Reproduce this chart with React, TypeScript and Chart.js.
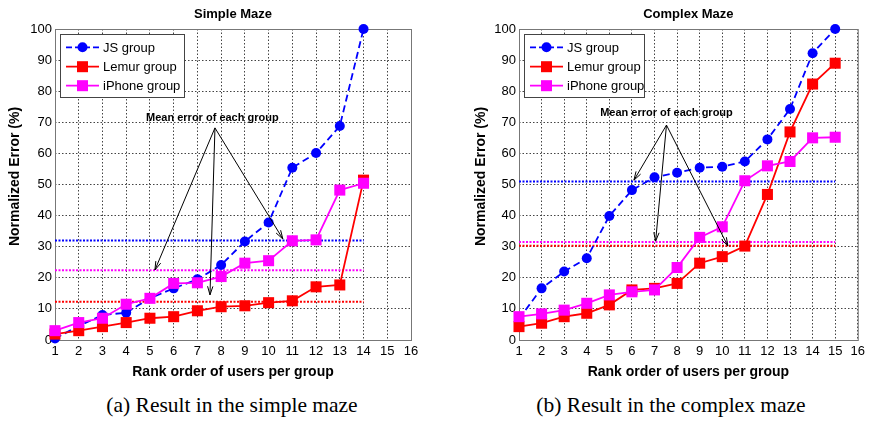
import React, { useEffect, useRef } from "react";
import { Chart, registerables } from "chart.js";
Chart.register(...registerables);

// ---------- Data ----------
const ranksSimple = [1, 2, 3, 4, 5, 6, 7, 8, 9, 10, 11, 12, 13, 14];
const jsSimple = [0.5, 4.5, 8, 8.8, 13.4, 16.6, 19.5, 24.1, 31.7, 37.8, 55.4, 60.1, 68.8, 100];
const lemurSimple = [1.9, 3, 4.3, 5.6, 7, 7.5, 9.4, 10.7, 11, 12, 12.6, 17.1, 17.7, 51.4];
const iphoneSimple = [3, 5.6, 7, 11.5, 13.4, 18.2, 18.4, 20.4, 24.7, 25.5, 31.9, 32.2, 48.2, 50.4];
const meanJsSimple = 32.0;
const meanLemurSimple = 12.3;
const meanIphoneSimple = 22.4;

const ranksComplex = [1, 2, 3, 4, 5, 6, 7, 8, 9, 10, 11, 12, 13, 14, 15];
const jsComplex = [6.8, 16.6, 22, 26.3, 39.9, 48.2, 52.3, 53.8, 55.4, 55.7, 57.4, 64.5, 74.3, 92.2, 100];
const lemurComplex = [4.3, 5.4, 7.5, 8.6, 11.3, 16.1, 16.6, 18.2, 24.7, 26.8, 30.2, 46.8, 66.9, 82.3, 89];
const iphoneComplex = [7.5, 8.4, 9.6, 11.8, 14.5, 15.5, 16.1, 23.3, 33, 36.4, 51.2, 56, 57.4, 65, 65.2];
const meanJsComplex = 51.0;
const meanLemurComplex = 30.3;
const meanIphoneComplex = 31.5;

const xTicksMin = 1;
const xTicksMax = 16;
const yTicksMin = 0;
const yTicksMax = 100;

const seriesNames = ["JS group", "Lemur group", "iPhone group"];
const annotationText = "Mean error of each group";
const yAxisTitle = "Normalized Error (%)";
const xAxisTitle = "Rank order of users per group";
// annotation anchors in data coordinates
const annotSimple = { text: [7.63, 71.5], origin: [7.74, 68.2], targets: [[5.21, 22.5], [7.53, 14.5], [10.6, 32.5]] };
const annotComplex = { text: [7.53, 72.9], origin: [7.53, 69.1], targets: [[6.09, 51.4], [7.05, 31.8], [10.25, 30.2]] };

const BLUE = "#0000ff";
const RED = "#ff0000";
const MAGENTA = "#ff00ff";
const FONT = "'Liberation Sans', Arial, sans-serif";

type Props = {
  ranks: number[];
  js: number[];
  lemur: number[];
  iphone: number[];
  meanJs: number;
  meanLemur: number;
  meanIphone: number;
  title: string;
  annot: { text: number[]; origin: number[]; targets: number[][] };
  width: number;
  height: number;
  padLeft: number;
  padRight: number;
  yWidth: number;
  legendWidth: number;
  yTitleX: number;
};

function MazeChart(p: Props) {
  const ref = useRef<HTMLCanvasElement | null>(null);
  useEffect(() => {
    if (!ref.current) return;
    const pts = (vals: number[]) => vals.map((v, i) => ({ x: p.ranks[i], y: v }));
    const first = p.ranks[0];
    const last = p.ranks[p.ranks.length - 1];
    const meanLine = (m: number) => [{ x: first, y: m }, { x: last, y: m }];

    const framePlugin = {
      id: "frame",
      beforeDatasetsDraw(chart: any) {
        const { ctx, chartArea: a } = chart;
        ctx.save();
        ctx.strokeStyle = "#777";
        ctx.lineWidth = 1;
        ctx.setLineDash([]);
        ctx.strokeRect(a.left + 0.5, a.top + 0.5, a.right - a.left, a.bottom - a.top);
        ctx.restore();
      },
    };

    const overlayPlugin = {
      id: "overlay",
      afterDatasetsDraw(chart: any) {
        const { ctx, chartArea: a, scales } = chart;
        const xs = scales.x;
        const ys = scales.y;
        ctx.save();
        // title
        ctx.fillStyle = "#000";
        ctx.font = `bold 13px ${FONT}`;
        ctx.textAlign = "center";
        ctx.textBaseline = "middle";
        ctx.fillText(p.title, (a.left + a.right) / 2, 14);

        // y-axis title
        ctx.save();
        ctx.translate(p.yTitleX, (a.top + a.bottom) / 2 - 8);
        ctx.rotate(-Math.PI / 2);
        ctx.font = `bold 14px ${FONT}`;
        ctx.fillText(yAxisTitle, 0, 0);
        ctx.restore();

        // annotation
        const tx = xs.getPixelForValue(p.annot.text[0]);
        const ty = ys.getPixelForValue(p.annot.text[1]);
        ctx.font = `bold 11px ${FONT}`;
        ctx.fillText(annotationText, tx, ty);
        const ox = xs.getPixelForValue(p.annot.origin[0]);
        const oy = ys.getPixelForValue(p.annot.origin[1]);
        ctx.strokeStyle = "#000";
        ctx.lineWidth = 1;
        ctx.setLineDash([]);
        p.annot.targets.forEach((t) => {
          const ex = xs.getPixelForValue(t[0]);
          const ey = ys.getPixelForValue(t[1]);
          ctx.beginPath();
          ctx.moveTo(ox, oy);
          ctx.lineTo(ex, ey);
          ctx.stroke();
          const ang = Math.atan2(ey - oy, ex - ox);
          const hl = 9;
          const ha = 0.3;
          ctx.beginPath();
          ctx.moveTo(ex - hl * Math.cos(ang - ha), ey - hl * Math.sin(ang - ha));
          ctx.lineTo(ex, ey);
          ctx.lineTo(ex - hl * Math.cos(ang + ha), ey - hl * Math.sin(ang + ha));
          ctx.stroke();
        });

        // legend
        const bx = a.left + 5;
        const by = a.top + 5;
        const bw = p.legendWidth;
        const bh = 63;
        ctx.fillStyle = "#fff";
        ctx.fillRect(bx, by, bw, bh);
        ctx.strokeStyle = "#444";
        ctx.lineWidth = 1;
        ctx.strokeRect(bx + 0.5, by + 0.5, bw, bh);
        const colors = [BLUE, RED, MAGENTA];
        const dashes = [[6, 3], [], []];
        const rowY = [13.3, 32.7, 51.7];
        ctx.font = `13px ${FONT}`;
        ctx.textAlign = "left";
        ctx.textBaseline = "middle";
        for (let i = 0; i < 3; i++) {
          const y = by + rowY[i];
          ctx.strokeStyle = colors[i];
          ctx.lineWidth = 1.8;
          ctx.setLineDash(dashes[i]);
          ctx.beginPath();
          ctx.moveTo(bx + 6, y);
          ctx.lineTo(bx + 39, y);
          ctx.stroke();
          ctx.setLineDash([]);
          ctx.fillStyle = colors[i];
          const mx = bx + 22.5;
          if (i === 0) {
            ctx.beginPath();
            ctx.arc(mx, y, 5, 0, Math.PI * 2);
            ctx.fill();
          } else {
            ctx.fillRect(mx - 5.5, y - 5.5, 11, 11);
          }
          ctx.fillStyle = "#000";
          ctx.fillText(seriesNames[i], bx + 43, y + 1);
        }
        ctx.restore();
      },
    };

    const chart = new Chart(ref.current, {
      type: "line",
      data: {
        datasets: [
          {
            label: seriesNames[2],
            data: pts(p.iphone),
            borderColor: MAGENTA,
            backgroundColor: MAGENTA,
            borderWidth: 1.8,
            pointStyle: "rect",
            pointRadius: 7.8,
            pointBorderWidth: 0,
            clip: false,
          } as any,
          {
            label: seriesNames[1],
            data: pts(p.lemur),
            borderColor: RED,
            backgroundColor: RED,
            borderWidth: 1.8,
            pointStyle: "rect",
            pointRadius: 7.8,
            pointBorderWidth: 0,
            clip: false,
          },
          {
            label: seriesNames[0],
            data: pts(p.js),
            borderColor: BLUE,
            backgroundColor: BLUE,
            borderWidth: 1.8,
            borderDash: [7, 4],
            pointStyle: "circle",
            pointRadius: 5,
            pointBorderWidth: 0,
            clip: false,
          },
          {
            label: "mean JS",
            data: meanLine(p.meanJs),
            borderColor: BLUE,
            borderWidth: 2,
            borderDash: [2, 1.5],
            pointRadius: 0,
            clip: false,
          },
          {
            label: "mean Lemur",
            data: meanLine(p.meanLemur),
            borderColor: RED,
            borderWidth: 2,
            borderDash: [2, 1.5],
            pointRadius: 0,
            clip: false,
          },
          {
            label: "mean iPhone",
            data: meanLine(p.meanIphone),
            borderColor: MAGENTA,
            borderWidth: 2,
            borderDash: [2, 1.5],
            pointRadius: 0,
            clip: false,
          },
        ],
      },
      options: {
        animation: false,
        responsive: false,
        maintainAspectRatio: false,
        layout: { padding: { left: p.padLeft, right: p.padRight, top: 29, bottom: 0 } },
        plugins: { legend: { display: false }, tooltip: { enabled: false }, title: { display: false } },
        elements: { line: { tension: 0 } },
        scales: {
          x: {
            type: "linear",
            min: xTicksMin,
            max: xTicksMax,
            afterFit: (s: any) => {
              s.height = 45;
            },
            ticks: {
              stepSize: 1,
              autoSkip: false,
              maxRotation: 0,
              color: "#000",
              padding: 4,
              font: { size: 13, family: FONT },
            },
            grid: { color: "#444", lineWidth: 1, drawTicks: false },
            border: { display: false, dash: [1.5, 2] },
            title: {
              display: true,
              text: xAxisTitle,
              color: "#000",
              font: { size: 14, weight: "bold", family: FONT },
              padding: { top: 0, bottom: 4 },
            },
          },
          y: {
            type: "linear",
            min: yTicksMin,
            max: yTicksMax,
            afterFit: (s: any) => {
              s.width = p.yWidth;
            },
            ticks: {
              stepSize: 10,
              color: "#000",
              padding: 3,
              font: { size: 13, family: FONT },
            },
            grid: { color: "#444", lineWidth: 1, drawTicks: false },
            border: { display: false, dash: [1.5, 2] },
            title: { display: false },
          },
        },
      } as any,
      plugins: [framePlugin, overlayPlugin],
    });
    return () => chart.destroy();
  }, []);
  return <canvas ref={ref} width={p.width} height={p.height} style={{ display: "block", width: p.width, height: p.height }} />;
}

export default function App() {
  useEffect(() => {
    document.body.style.margin = "0";
  }, []);
  const captionStyle: React.CSSProperties = {
    position: "absolute",
    top: 392,
    fontFamily: "'Liberation Serif', 'Times New Roman', serif",
    fontSize: 21.5,
    textAlign: "center",
    lineHeight: "26px",
    color: "#000",
  };
  return (
    <div style={{ position: "absolute", left: 0, top: 0, width: 869, height: 421, background: "#fff", overflow: "hidden" }}>
      <div style={{ position: "absolute", left: 0, top: 0 }}>
        <MazeChart
          ranks={ranksSimple}
          js={jsSimple}
          lemur={lemurSimple}
          iphone={iphoneSimple}
          meanJs={meanJsSimple}
          meanLemur={meanLemurSimple}
          meanIphone={meanIphoneSimple}
          title="Simple Maze"
          annot={annotSimple}
          width={435}
          height={385}
          padLeft={3}
          padRight={24}
          yWidth={52}
          legendWidth={124}
          yTitleX={15}
        />
      </div>
      <div style={{ position: "absolute", left: 435, top: 0 }}>
        <MazeChart
          ranks={ranksComplex}
          js={jsComplex}
          lemur={lemurComplex}
          iphone={iphoneComplex}
          meanJs={meanJsComplex}
          meanLemur={meanLemurComplex}
          meanIphone={meanIphoneComplex}
          title="Complex Maze"
          annot={annotComplex}
          width={434}
          height={385}
          padLeft={34}
          padRight={8}
          yWidth={50}
          legendWidth={120}
          yTitleX={46}
        />
      </div>
      <div style={{ ...captionStyle, left: 0, width: 464 }}>(a) Result in the simple maze</div>
      <div style={{ ...captionStyle, left: 435, width: 472 }}>(b) Result in the complex maze</div>
    </div>
  );
}
